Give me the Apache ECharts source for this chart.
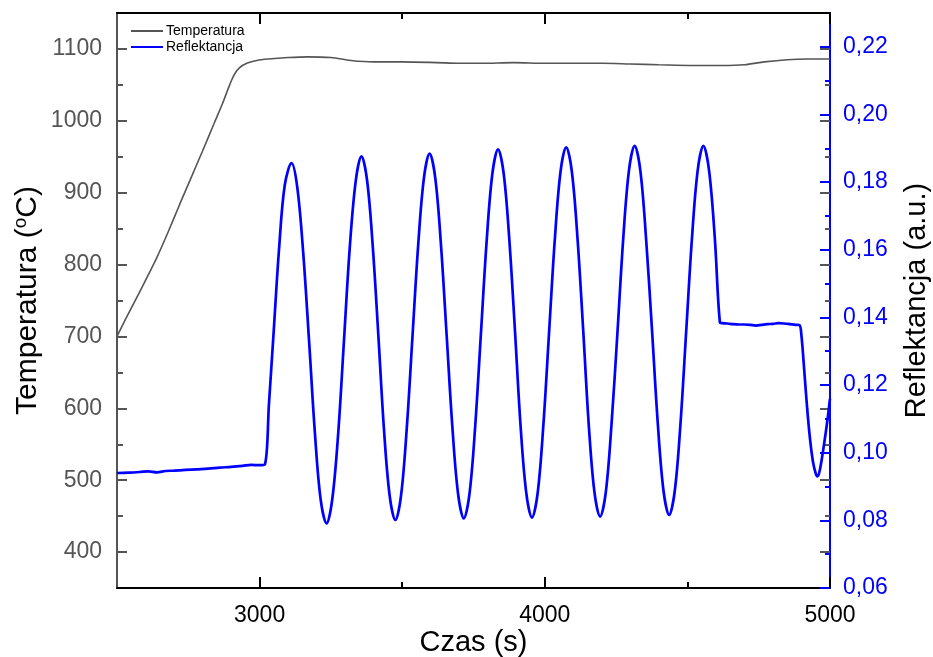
<!DOCTYPE html>
<html>
<head>
<meta charset="utf-8">
<script src="https://cdn.jsdelivr.net/npm/echarts@6/dist/echarts.min.js"></script>
<style>
  html, body { margin: 0; padding: 0; background: #fff; }
  #chart { width: 933px; height: 657px; }
</style>
</head>
<body>
<div id="chart"></div>
<script>
// Temperature trace (time in s, temperature in °C)
const timeTemp = [2500,2530,2560,2600,2640,2680,2720,2760,2800,2840,2870,2895,2912,2930,2955,2990,3030,3100,3170,3250,3320,3400,3500,3620,3700,3780,3890,4000,4100,4200,4300,4400,4520,4620,4700,4770,4850,4920,5000];
const tempValues = [700,724,747,778,810,846,884,921,958,996,1024,1050,1065,1074,1080,1084,1086,1088,1089,1088,1084,1082,1082,1081,1080,1080,1081,1080,1080,1080,1079,1078,1077,1077,1078,1082,1085,1086,1086];

// Reflectance trace (time in s, reflectance in a.u.)
const timeRefl = [
  2500,2540,2580,2610,2640,2670,2700,2740,2780,2820,2860,2900,2940,2970,3000,3019,
  3033,3048,3068,3088,3112,
  3132,3153,3174,3194,3214,3235,
  3255,3276,3296,3316,3337,3357,
  3377,3397,3417,3436,3456,3476,
  3496,3516,3536,3556,3576,3596,
  3616,3636,3656,3676,3696,3716,
  3736,3756,3776,3796,3816,3836,
  3856,3876,3896,3915,3935,3955,
  3975,3995,4015,4035,4055,4075,
  4095,4115,4135,4154,4174,4194,
  4214,4234,4255,4275,4295,4315,
  4335,4355,4376,4396,4416,4436,
  4456,4476,4496,4516,4536,4556,
  4576,4596,4614,
  4622,4640,4660,4680,4700,4720,4740,4760,4780,4800,4820,4840,4860,4880,4893,
  4900,4910,4920,4930,4940,4950,4956,4962,4970,4980,4990,5000
];
const reflValues = [
  0.0940,0.0941,0.0943,0.0945,0.0942,0.0946,0.0947,0.0949,0.0951,0.0953,0.0956,0.0958,0.0961,0.0964,0.0963,0.0966,
  0.1147,0.1340,0.1600,0.1790,0.1856,
  0.1785,0.1590,0.1323,0.1057,0.0862,0.0791,
  0.0864,0.1062,0.1334,0.1605,0.1803,0.1876,
  0.1804,0.1607,0.1338,0.1070,0.0873,0.0801,
  0.0874,0.1072,0.1343,0.1613,0.1811,0.1884,
  0.1812,0.1614,0.1345,0.1075,0.0878,0.0806,
  0.0879,0.1079,0.1352,0.1624,0.1824,0.1897,
  0.1824,0.1625,0.1352,0.1080,0.0881,0.0808,
  0.0881,0.1082,0.1356,0.1629,0.1830,0.1903,
  0.1830,0.1630,0.1357,0.1084,0.0884,0.0811,
  0.0884,0.1085,0.1359,0.1633,0.1834,0.1907,
  0.1834,0.1634,0.1361,0.1089,0.0889,0.0816,
  0.0889,0.1089,0.1362,0.1634,0.1834,0.1907,
  0.1834,0.1636,0.1385,
  0.1383,0.1382,0.1380,0.1379,0.1379,0.1378,0.1376,0.1378,0.1380,0.1381,0.1383,0.1382,0.1380,0.1378,0.1377,
  0.1345,0.1240,0.1130,0.1040,0.0975,0.0938,0.0930,0.0940,0.0975,0.1030,0.1090,0.1160
];

// Tick positions
const timeMajorTicks = [3000, 4000, 5000];
const timeMinorTicks = [3500, 4500];
const tempMajorTicks = [400, 500, 600, 700, 800, 900, 1000, 1100];
const tempMinorTicks = [450, 550, 650, 750, 850, 950, 1050];
const reflMajorTicks = [0.06, 0.08, 0.10, 0.12, 0.14, 0.16, 0.18, 0.20, 0.22];
const reflMinorTicks = [0.07, 0.09, 0.11, 0.13, 0.15, 0.17, 0.19, 0.21];

const FONT = 'Liberation Sans, Arial, sans-serif';
const GREY = '#555555';
const BLUE = '#0000ff';

const zip = (xs, ys) => xs.map((x, i) => [x, ys[i]]);
const plain = v => String(Math.round(v));

const chart = echarts.init(document.getElementById('chart'), null, { renderer: 'canvas' });

function tickAxis(base, values, len, color, width) {
  return Object.assign({
    type: 'value',
    axisLine: { show: false },
    splitLine: { show: false },
    axisLabel: { show: false },
    axisTick: { show: true, inside: true, length: len, customValues: values,
                lineStyle: { color: color, width: width } }
  }, base);
}

chart.setOption({
  animation: false,
  backgroundColor: '#ffffff',
  textStyle: { fontFamily: FONT },
  grid: { left: 117, right: 103, top: 13, bottom: 69, containLabel: false, outerBoundsMode: 'none' },
  legend: {
    orient: 'vertical',
    left: 125,
    top: 19,
    itemWidth: 32,
    itemHeight: 14,
    itemGap: 2,
    itemStyle: { opacity: 0 },
    textStyle: { fontSize: 14, color: '#000', fontFamily: FONT, padding: [0, 0, 0, -2] },
    data: ['Temperatura', 'Reflektancja']
  },
  xAxis: [
    {
      type: 'value', min: 2500, max: 5000, position: 'bottom',
      name: 'Czas (s)', nameLocation: 'middle', nameGap: 40, nameMoveOverlap: false,
      nameTextStyle: { fontSize: 29, color: '#000', fontFamily: FONT },
      axisLine: { show: true, lineStyle: { color: '#000', width: 2 } },
      axisTick: { show: true, inside: true, length: 11, customValues: timeMajorTicks,
                  lineStyle: { color: '#000', width: 2 } },
      axisLabel: { customValues: timeMajorTicks, fontSize: 23, color: '#000', margin: 16, fontFamily: FONT,
                   formatter: plain },
      splitLine: { show: false }
    },
    tickAxis({ min: 2500, max: 5000, position: 'bottom' }, timeMinorTicks, 6, '#000', 2),
    Object.assign(tickAxis({ min: 2500, max: 5000, position: 'top' }, timeMajorTicks, 11, '#000', 2),
      { axisLine: { show: true, lineStyle: { color: '#000', width: 2 } } }),
    tickAxis({ min: 2500, max: 5000, position: 'top' }, timeMinorTicks, 6, '#000', 2)
  ],
  yAxis: [
    {
      type: 'value', min: 350, max: 1150, position: 'left',
      name: '{a|Temperatura (}{s|o}{a|C)}', nameLocation: 'middle', nameGap: 72, nameRotate: 90,
      nameMoveOverlap: false,
      nameTextStyle: {
        rich: {
          a: { fontSize: 30, color: '#000', fontFamily: FONT, lineHeight: 34 },
          s: { fontSize: 19, color: '#000', fontFamily: FONT, verticalAlign: 'top', lineHeight: 34 }
        }
      },
      axisLine: { show: true, lineStyle: { color: GREY, width: 2 } },
      axisTick: { show: true, inside: true, length: 10, customValues: tempMajorTicks,
                  lineStyle: { color: GREY, width: 2 } },
      axisLabel: { customValues: tempMajorTicks, fontSize: 23, color: GREY, margin: 15, fontFamily: FONT,
                   formatter: plain },
      splitLine: { show: false }
    },
    tickAxis({ min: 350, max: 1150, position: 'left' }, tempMinorTicks, 6, GREY, 2),
    tickAxis({ min: 350, max: 1150, position: 'right' }, tempMajorTicks, 10, GREY, 2),
    tickAxis({ min: 350, max: 1150, position: 'right' }, tempMinorTicks, 5, GREY, 2),
    {
      type: 'value', min: 0.06, max: 0.23, position: 'right',
      name: 'Reflektancja (a.u.)', nameLocation: 'middle', nameGap: 72, nameRotate: 90,
      nameMoveOverlap: false,
      nameTextStyle: { fontSize: 29, color: '#000', fontFamily: FONT },
      axisLine: { show: true, lineStyle: { color: BLUE, width: 2 } },
      axisTick: { show: true, inside: true, length: 10, customValues: reflMajorTicks,
                  lineStyle: { color: BLUE, width: 2 } },
      axisLabel: { customValues: reflMajorTicks, fontSize: 23, color: BLUE, margin: 13, fontFamily: FONT,
                   formatter: v => v.toFixed(2).replace('.', ',') },
      splitLine: { show: false }
    },
    tickAxis({ min: 0.06, max: 0.23, position: 'right' }, reflMinorTicks, 5, BLUE, 2)
  ],
  series: [
    {
      name: 'Temperatura', type: 'line', xAxisIndex: 0, yAxisIndex: 0,
      data: zip(timeTemp, tempValues),
      showSymbol: false, symbol: 'none', smooth: 0.3,
      lineStyle: { color: GREY, width: 1.6 },
      itemStyle: { color: GREY },
      z: 3
    },
    {
      name: 'Reflektancja', type: 'line', xAxisIndex: 0, yAxisIndex: 4,
      data: zip(timeRefl, reflValues),
      showSymbol: false, symbol: 'none', smooth: 0.35,
      lineStyle: { color: BLUE, width: 2.7 },
      itemStyle: { color: BLUE },
      z: 4
    }
  ]
});
</script>
</body>
</html>
